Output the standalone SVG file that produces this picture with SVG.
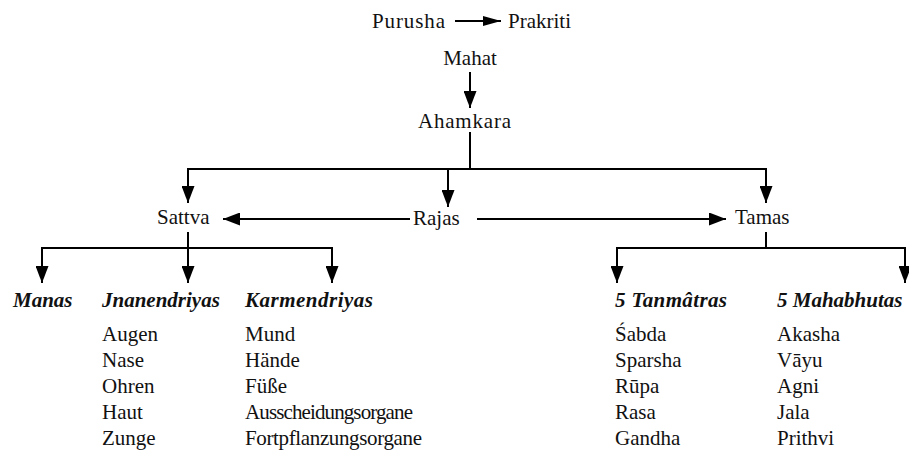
<svg xmlns="http://www.w3.org/2000/svg" width="909" height="451" viewBox="0 0 909 451">
<style>
text{font-family:"Liberation Serif","Times New Roman","DejaVu Serif",serif;font-size:21px;fill:#111}
.h{font-weight:bold;font-style:italic}
.c{stroke:#000;stroke-width:2;fill:none}
.a{marker-end:url(#ah)}
.s{marker-end:url(#ah2)}
</style>
<defs>
<marker id="ah" viewBox="0 0 17 13" refX="17" refY="6.5" markerWidth="17" markerHeight="13" markerUnits="userSpaceOnUse" orient="auto">
<path d="M0,0 L17,6.5 L0,13 z" fill="#000"/>
</marker>
<marker id="ah2" viewBox="0 0 18 10" refX="18" refY="5" markerWidth="18" markerHeight="10" markerUnits="userSpaceOnUse" orient="auto">
<path d="M0,0 L18,5 L0,10 z" fill="#000"/>
</marker>
</defs>
<rect width="909" height="451" fill="#fff"/>
<g id="connectors">
<line class="c s" x1="455" y1="21" x2="501" y2="21"/>
<line class="c a" x1="470" y1="72" x2="470" y2="108"/>
<line class="c" x1="470" y1="132" x2="470" y2="169"/>
<line class="c" x1="187" y1="169" x2="767" y2="169"/>
<line class="c a" x1="188" y1="168" x2="188" y2="203"/>
<line class="c a" x1="448" y1="169" x2="448" y2="207"/>
<line class="c a" x1="766" y1="168" x2="766" y2="203"/>
<line class="c a" x1="410" y1="219" x2="223" y2="219"/>
<line class="c a" x1="477" y1="219" x2="726" y2="219"/>
<line class="c" x1="188" y1="232" x2="188" y2="248"/>
<line class="c" x1="41" y1="248" x2="333" y2="248"/>
<line class="c a" x1="42" y1="247" x2="42" y2="283"/>
<line class="c a" x1="188" y1="247" x2="188" y2="283"/>
<line class="c a" x1="332" y1="247" x2="332" y2="283"/>
<line class="c" x1="766" y1="232" x2="766" y2="248"/>
<line class="c" x1="616" y1="248" x2="906" y2="248"/>
<line class="c a" x1="617" y1="247" x2="617" y2="283"/>
<line class="c a" x1="905" y1="247" x2="905" y2="283"/>
</g>
<g id="purusha"><text x="372" y="28" textLength="73">Purusha</text></g>
<g id="prakriti"><text x="508" y="28">Prakriti</text></g>
<g id="mahat"><text x="470" y="65" text-anchor="middle">Mahat</text></g>
<g id="ahamkara"><text x="418" y="128" textLength="93">Ahamkara</text></g>
<g id="sattva"><text x="157" y="224">Sattva</text></g>
<g id="rajas"><text x="413" y="225">Rajas</text></g>
<g id="tamas"><text x="735" y="224">Tamas</text></g>
<g id="manas"><text class="h" x="13" y="307">Manas</text></g>
<g id="jnanendriyas">
<text class="h" x="102" y="307">Jnanendriyas</text>
<text x="102" y="341">Augen</text>
<text x="102" y="367">Nase</text>
<text x="102" y="393">Ohren</text>
<text x="102" y="419">Haut</text>
<text x="102" y="445">Zunge</text>
</g>
<g id="karmendriyas">
<text class="h" x="245" y="307" textLength="128">Karmendriyas</text>
<text x="245" y="341">Mund</text>
<text x="245" y="367">Hände</text>
<text x="245" y="393">Füße</text>
<text x="245" y="419" textLength="168">Ausscheidungsorgane</text>
<text x="245" y="445" textLength="177">Fortpflanzungsorgane</text>
</g>
<g id="tanmatras">
<text class="h" x="615" y="307" textLength="112">5 Tanmâtras</text>
<text x="615" y="341">Śabda</text>
<text x="615" y="367">Sparsha</text>
<text x="615" y="393">Rūpa</text>
<text x="615" y="419">Rasa</text>
<text x="615" y="445">Gandha</text>
</g>
<g id="mahabhutas">
<text class="h" x="777" y="307">5 Mahabhutas</text>
<text x="777" y="341">Akasha</text>
<text x="777" y="367">Vāyu</text>
<text x="777" y="393">Agni</text>
<text x="777" y="419">Jala</text>
<text x="777" y="445">Prithvi</text>
</g>
</svg>
